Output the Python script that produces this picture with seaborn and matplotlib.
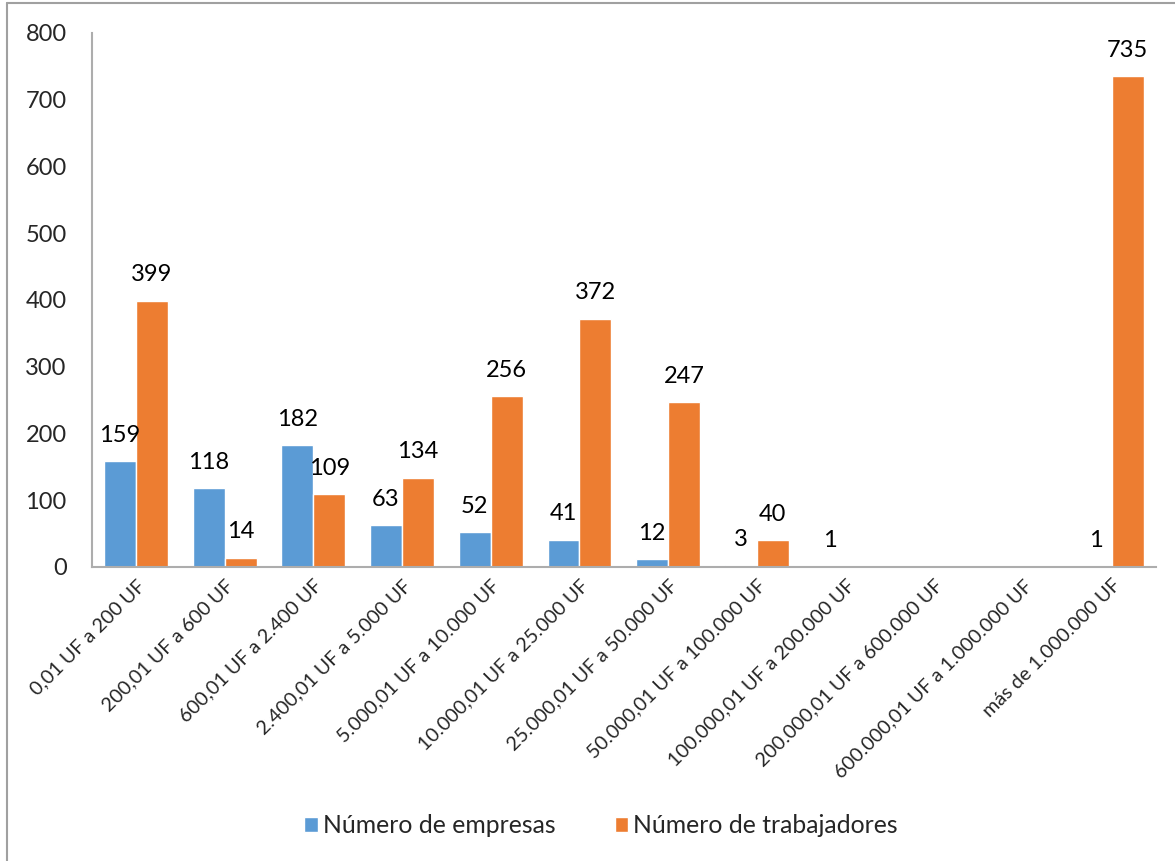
import matplotlib.pyplot as plt
import numpy as np
import pandas as pd
import seaborn as sns
from matplotlib.lines import Line2D

categories = [
    "0,01 UF a 200 UF",
    "200,01 UF a 600 UF",
    "600,01 UF a 2.400 UF",
    "2.400,01 UF a 5.000 UF",
    "5.000,01 UF a 10.000 UF",
    "10.000,01 UF a 25.000 UF",
    "25.000,01 UF a 50.000 UF",
    "50.000,01 UF a 100.000 UF",
    "100.000,01 UF a 200.000 UF",
    "200.000,01 UF a 600.000 UF",
    "600.000,01 UF a 1.000.000 UF",
    "más de 1.000.000 UF",
]
empresas = [159, 118, 182, 63, 52, 41, 12, 3, 1, None, None, 1]
trabajadores = [399, 14, 109, 134, 256, 372, 247, 40, None, None, None, 735]
series_names = ["Número de empresas", "Número de trabajadores"]
colors = ["#5B9BD5", "#ED7D31"]

df = pd.DataFrame({
    "categoria": categories * 2,
    "serie": [series_names[0]] * len(categories) + [series_names[1]] * len(categories),
    "valor": empresas + trabajadores,
})
df["valor"] = pd.to_numeric(df["valor"])
df["altura"] = df["valor"].fillna(0)

sns.set_style("white")
plt.rcParams["font.family"] = ["Lato", "DejaVu Sans"]

fig = plt.figure(figsize=(11.75, 8.61), dpi=100)
ax = fig.add_axes([0.0779, 0.3415, 0.906, 0.6202])

sns.barplot(data=df, x="categoria", y="altura", hue="serie", order=categories,
            hue_order=series_names, palette=colors, width=0.72, saturation=1,
            errorbar=None, ax=ax)

for cont, vals in zip(ax.containers, [empresas, trabajadores]):
    labels = ["" if v is None else str(v) for v in vals]
    ax.bar_label(cont, labels=labels, padding=11, fontsize=17, color="#000000")

ax.set_ylim(0, 800)
ax.set_yticks(np.arange(0, 801, 100))
ax.tick_params(axis="y", labelsize=17, length=0, pad=18)
ax.tick_params(axis="x", labelsize=14.2, length=0, pad=7)
plt.setp(ax.get_xticklabels(), rotation=45, ha="right", rotation_mode="anchor")
ax.set_xlabel("")
ax.set_ylabel("")

for side in ["top", "right"]:
    ax.spines[side].set_visible(False)
for side in ["left", "bottom"]:
    ax.spines[side].set_color("#ADADAD")
    ax.spines[side].set_linewidth(1.5)

ax.legend(loc="center", bbox_to_anchor=(0.5115, 0.041), bbox_transform=fig.transFigure,
          ncol=2, frameon=False, fontsize=17.8, handlelength=0.55, handleheight=0.55,
          handletextpad=0.2, columnspacing=2.4)

# chart frame
fig.add_artist(Line2D([7 / 1175, 7 / 1175], [0, 1 - 3 / 861], color="#A0A0A0", lw=1.5,
                      transform=fig.transFigure))
fig.add_artist(Line2D([7 / 1175, 1], [1 - 3 / 861, 1 - 3 / 861], color="#A0A0A0", lw=1.5,
                      transform=fig.transFigure))

fig.savefig("out.png", dpi=100)
